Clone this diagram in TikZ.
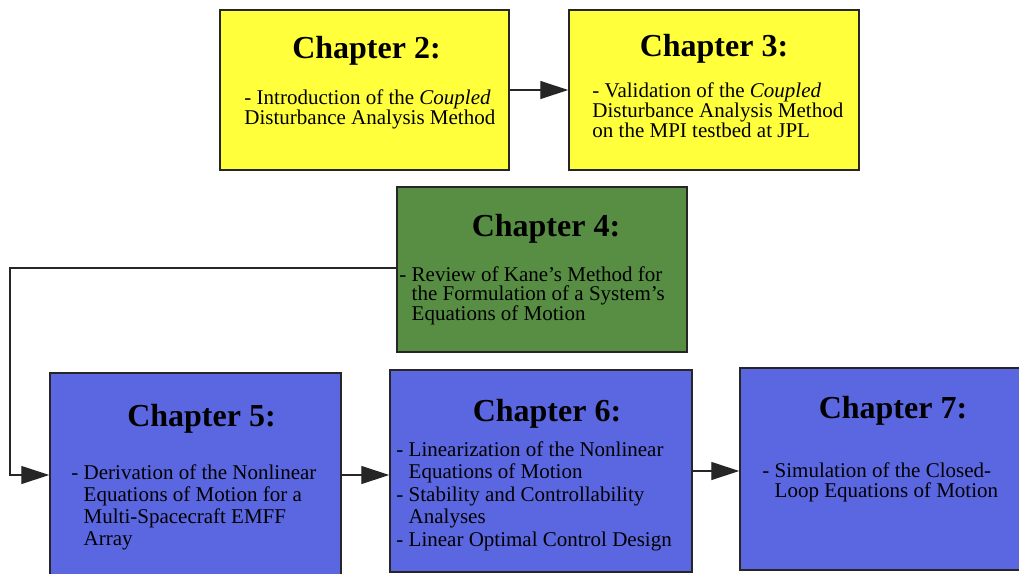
\documentclass[tikz,border=0pt]{standalone}
\usepackage{fontspec}
\setmainfont{Liberation Serif}
\usetikzlibrary{arrows.meta,positioning}
\definecolor{chapYellow}{HTML}{FFFF3C}
\definecolor{chapGreen}{HTML}{588E44}
\definecolor{chapBlue}{HTML}{5B67E0}
\definecolor{chapEdge}{HTML}{262626}
\newcommand{\hang}{\hphantom{- }}
\tikzset{
  chapbox/.style={rectangle,draw=chapEdge,line width=1.5pt,inner sep=0pt,
    minimum width=290pt,minimum height=160pt},
  chaptitle/.style={font=\fontsize{32}{34}\selectfont\bfseries,inner sep=0pt},
  chaptext/.style={font=\fontsize{21}{20}\selectfont,inner sep=0pt,anchor=base west,align=left},
  arrow/.style={-{Triangle[length=28pt,width=18pt]},line width=1.2pt,draw=chapEdge}
}

\begin{document}
\begin{tikzpicture}[x=1pt,y=-1pt]
  \path[use as bounding box,fill=white] (0,0) rectangle (1019,573);
  \node[chapbox,fill=chapYellow,minimum width=289pt] (ch2) at (364.5,90) {};
  \node[chapbox,fill=chapYellow] (ch3) at (714,90) {};
  \node[chapbox,fill=chapGreen,minimum height=165pt] (ch4) at (542,269.5) {};
  \node[chapbox,fill=chapBlue,minimum width=291pt,minimum height=204pt] (ch5) at (195.5,475) {};
  \node[chapbox,fill=chapBlue,minimum width=302pt,minimum height=202pt] (ch6) at (541,471) {};
  \node[chapbox,fill=chapBlue,minimum width=300pt,minimum height=202pt] (ch7) at (890,469) {};

  \node[chaptitle] (ch2t) at ([xshift=2pt,yshift=-42pt]ch2.north) {Chapter 2:};
  \node[chaptitle] (ch3t) at ([yshift=-40pt]ch3.north) {Chapter 3:};
  \node[chaptitle] (ch4t) at ([xshift=4pt,yshift=-43pt]ch4.north) {Chapter 4:};
  \node[chaptitle] (ch5t) at ([xshift=6pt,yshift=-47pt]ch5.north) {Chapter 5:};
  \node[chaptitle] (ch6t) at ([xshift=6pt,yshift=-45pt]ch6.north) {Chapter 6:};
  \node[chaptitle] (ch7t) at ([xshift=3pt,yshift=-44pt]ch7.north) {Chapter 7:};

  \node[chaptext] (ch2b) at ([xshift=25pt,yshift=-115pt]ch2.north west)
    {- Introduction of the \textit{Coupled}\\Disturbance Analysis Method};
  \node[chaptext,font=\fontsize{21}{19}\selectfont] (ch3b) at ([xshift=24pt,yshift=-128pt]ch3.north west)
    {- Validation of the \textit{Coupled}\\Disturbance Analysis Method\\on the MPI testbed at JPL};
  \node[chaptext,font=\fontsize{21}{19.5}\selectfont] (ch4b) at ([xshift=3pt,yshift=-134pt]ch4.north west)
    {- Review of Kane’s Method for\\\hang the Formulation of a System’s\\\hang Equations of Motion};
  \node[chaptext,font=\fontsize{21}{22}\selectfont] (ch5b) at ([xshift=22pt,yshift=-173pt]ch5.north west)
    {- Derivation of the Nonlinear\\\hang Equations of Motion for a\\\hang Multi-Spacecraft EMFF\\\hang Array};
  \node[chaptext,font=\fontsize{21}{22.5}\selectfont] (ch6b) at ([xshift=7pt,yshift=-177pt]ch6.north west)
    {- Linearization of the Nonlinear\\\hang Equations of Motion\\- Stability and Controllability\\\hang Analyses\\- Linear Optimal Control Design};
  \node[chaptext] (ch7b) at ([xshift=23pt,yshift=-130pt]ch7.north west)
    {- Simulation of the Closed-\\\hang Loop Equations of Motion};

  \coordinate (bend) at (10,268);
  \draw[arrow] (ch2) -- (ch3);
  \draw[arrow] (ch4.west |- bend) -- (bend) |- (ch5.west);
  \draw[arrow] (ch5.east) -- (ch6.west |- ch5.east);
  \draw[arrow] (ch6.east) -- (ch7.west |- ch6.east);
\end{tikzpicture}
\end{document}
